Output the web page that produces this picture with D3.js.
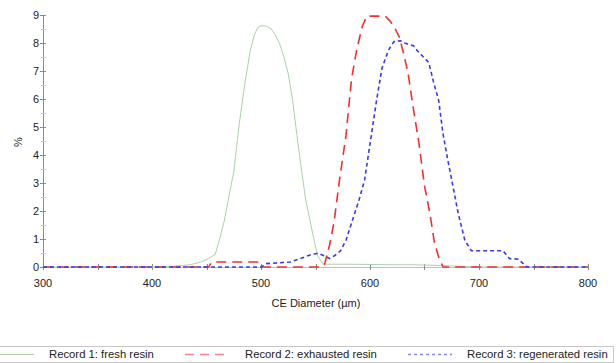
<!DOCTYPE html>
<html>
<head>
<meta charset="utf-8">
<script src="https://cdn.jsdelivr.net/npm/d3@7"></script>
<style>
  body { margin: 0; background: #fff; }
  svg { font-family: "Liberation Sans", Arial, sans-serif; }
</style>
</head>
<body>
<svg id="chart" width="616" height="363"></svg>
<script>
// values (diameter in µm, % by volume)
var freshX = [300, 400, 420, 435, 445, 452, 458, 462, 466, 470, 475, 480, 485, 490, 494, 497, 500, 505, 509, 513, 517, 521, 525, 529, 533, 537, 541, 545, 549, 552, 556, 560, 580, 600, 620, 640, 660, 680, 700, 800];
var freshY = [0, 0, 0.03, 0.08, 0.18, 0.3, 0.45, 1.0, 1.6, 2.4, 3.4, 5.1, 6.5, 7.7, 8.3, 8.55, 8.62, 8.6, 8.52, 8.3, 7.98, 7.5, 6.9, 5.95, 4.7, 3.5, 2.4, 1.65, 0.9, 0.4, 0.15, 0.1, 0.1, 0.09, 0.08, 0.08, 0.06, 0.03, 0, 0];

var exhaustedX = [300, 452, 455, 499, 501, 555, 558, 563, 567, 572, 578, 583, 588, 593, 597, 614, 618, 622, 627, 631, 635, 640, 645, 650, 655, 659, 663, 667, 800];
var exhaustedY = [0, 0, 0.18, 0.18, 0, 0, 0.05, 0.8, 1.6, 3.1, 4.7, 6.7, 7.8, 8.6, 8.96, 8.96, 8.8, 8.6, 8.2, 7.6, 6.9, 5.6, 4.4, 2.9, 1.9, 0.9, 0.35, 0, 0];

var regenX = [300, 500, 505, 527, 536, 545, 552, 558, 563, 568, 573, 578, 584, 590, 595, 601, 606, 611, 617, 622, 628, 632, 637, 640, 644, 649, 654, 658, 663, 667, 671, 675, 681, 687, 693, 722, 728, 736, 744, 800];
var regenY = [0, 0, 0.12, 0.18, 0.3, 0.43, 0.49, 0.4, 0.3, 0.42, 0.58, 0.96, 1.68, 2.4, 3.1, 4.65, 5.95, 7.1, 7.75, 8.05, 8.08, 8.0, 7.93, 7.9, 7.7, 7.5, 7.3, 6.65, 5.95, 4.75, 3.9, 3.1, 1.9, 0.96, 0.58, 0.58, 0.3, 0.28, 0, 0];

var seriesNames = ["Record 1: fresh resin", "Record 2: exhausted resin", "Record 3: regenerated resin"];
var xTicks = [300, 400, 500, 600, 700, 800];
var yTicks = [0, 1, 2, 3, 4, 5, 6, 7, 8, 9];

var X0 = 43, X1 = 588, Y0 = 267, Y1 = 15;

var svg = d3.select("#chart");
var x = d3.scaleLinear().domain([300, 800]).range([X0, X1]);
var y = d3.scaleLinear().domain([0, 9]).range([Y0, Y1]);

var AXIS = "#8a8a8a";

// y axis: line, major + minor ticks crossing the axis
svg.append("line").attr("x1", X0 + 0.5).attr("x2", X0 + 0.5).attr("y1", Y1).attr("y2", Y0)
    .attr("stroke", AXIS).attr("stroke-width", 1);
var yMinor = d3.range(0, 9.01, 0.5);
svg.selectAll(".ytick").data(yMinor).enter().append("line")
    .attr("x1", function(d){ return d % 1 === 0 ? X0 - 3 : X0 - 2; })
    .attr("x2", X0 + 3)
    .attr("y1", function(d){ return Math.round(y(d)) + 0.5; })
    .attr("y2", function(d){ return Math.round(y(d)) + 0.5; })
    .attr("stroke", function(d){ return d % 1 === 0 ? AXIS : "#c8c8c8"; });
svg.selectAll(".ylab").data(yTicks).enter().append("text")
    .attr("x", X0 - 4).attr("y", function(d){ return y(d); })
    .attr("dy", "0.35em").attr("text-anchor", "end")
    .attr("font-size", 11).attr("fill", "#222").text(function(d){ return d; });

// x axis
svg.append("line").attr("x1", X0).attr("x2", X1).attr("y1", Y0 + 0.5).attr("y2", Y0 + 0.5)
    .attr("stroke", "#c0c0c0").attr("stroke-width", 1);
var xMinor = d3.range(300, 801, 50);
svg.selectAll(".xtick").data(xMinor).enter().append("line")
    .attr("x1", function(d){ return Math.round(x(d)) + 0.5; })
    .attr("x2", function(d){ return Math.round(x(d)) + 0.5; })
    .attr("y1", Y0 - 3).attr("y2", Y0 + 3)
    .attr("stroke", AXIS);
svg.selectAll(".xlab").data(xTicks).enter().append("text")
    .attr("x", function(d){ return x(d); }).attr("y", 287)
    .attr("text-anchor", "middle").attr("font-size", 11).attr("fill", "#222")
    .text(function(d){ return d; });

svg.append("text").attr("x", 316).attr("y", 307)
    .attr("text-anchor", "middle").attr("font-size", 11).attr("fill", "#222")
    .text("CE Diameter (µm)");
svg.append("text").attr("transform", "translate(22,142) rotate(-90)")
    .attr("text-anchor", "middle").attr("font-size", 11).attr("fill", "#222")
    .text("%");

// series
var line = d3.line().x(function(d){ return x(d[0]); }).y(function(d){ return y(d[1]); });
var series = [
    {xs: freshX, ys: freshY, color: "#a9d3a9", width: 1, dash: null},
    {xs: exhaustedX, ys: exhaustedY, color: "#f03030", width: 1.6, dash: "10,6"},
    {xs: regenX, ys: regenY, color: "#3a3af0", width: 1.6, dash: "4,3"}
];
series.forEach(function(s){
    svg.append("path")
        .datum(d3.zip(s.xs, s.ys))
        .attr("d", line)
        .attr("fill", "none")
        .attr("stroke", s.color)
        .attr("stroke-width", s.width)
        .attr("stroke-dasharray", s.dash);
});

// legend
svg.append("rect").attr("x", -1.5).attr("y", 346.5).attr("width", 615).attr("height", 16)
    .attr("fill", "#fff").attr("stroke", "#c8c8c8");
var legX = [0, 185, 408];
var textX = [49, 245, 467];
series.forEach(function(s, i){
    svg.append("line").attr("x1", legX[i]).attr("x2", legX[i] + (i === 0 ? 34 : 44))
        .attr("y1", 354.5).attr("y2", 354.5)
        .attr("stroke", s.color).attr("stroke-width", i === 0 ? 1 : 1.6)
        .attr("stroke-dasharray", i === 1 ? "9,6" : (i === 2 ? "3,3" : null))
        .attr("opacity", i === 0 ? 1 : 0.6);
    svg.append("text").attr("x", textX[i]).attr("y", 354.5).attr("dy", "0.35em")
        .attr("font-size", 11.3).attr("fill", "#222").text(seriesNames[i]);
});
</script>
</body>
</html>
